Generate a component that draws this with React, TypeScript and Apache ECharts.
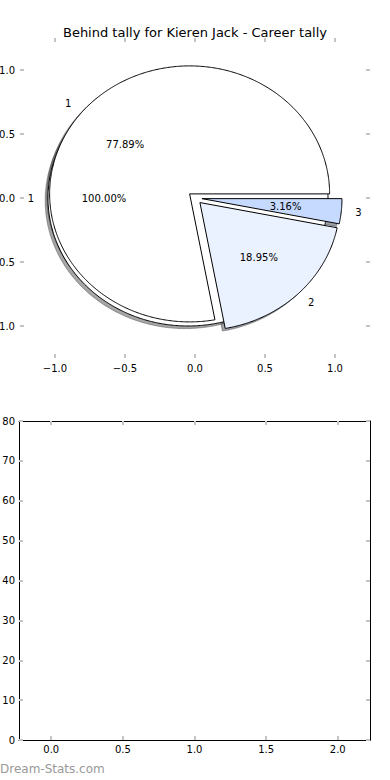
import React, { useEffect, useRef } from 'react';
import * as echarts from 'echarts';

const TITLE = 'Behind tally for Kieren Jack - Career tally';
const WATERMARK = 'Dream-Stats.com';
// background full pie (one category)
const outerLabels = ['1'];
const outerValues = [95];
const outerColors = ['#ffffff'];
// career tally pie
const innerLabels = ['1', '2', '3'];
const innerValues = [74, 18, 3];
const innerColors = ['#ffffff', '#eaf1ff', '#c6d9ff'];
const EXPLODE = 0.05;
const pieTicks = [-1, -0.5, 0, 0.5, 1];
const barXTicks = [0, 0.5, 1, 1.5, 2];
const barYMin = 0;
const barYMax = 80;
const barYStep = 10;

const FONT = 'DejaVu Sans';

type Wedge = { t1: number; t2: number; cx: number; cy: number; color: string; label: string; pct: number; mid: number; full: boolean };

function buildWedges(values: number[], colors: string[], labels: string[]): Wedge[] {
  const total = values.reduce((a, b) => a + b, 0);
  let t1 = 0;
  return values.map((v, i) => {
    const t2 = t1 + (v / total) * 360;
    const mid = ((t1 + t2) / 2) * Math.PI / 180;
    const w: Wedge = {
      t1, t2,
      cx: EXPLODE * Math.cos(mid),
      cy: EXPLODE * Math.sin(mid),
      color: colors[i], label: labels[i], pct: (v / total) * 100, mid,
      full: Math.abs(t2 - t1 - 360) < 1e-9,
    };
    t1 = t2;
    return w;
  });
}

const outerWedges = buildWedges(outerValues, outerColors, outerLabels);
const innerWedges = buildWedges(innerValues, innerColors, innerLabels);
const allWedges = [...outerWedges, ...innerWedges];

function shadeColor(hex: string) {
  const r = parseInt(hex.slice(1, 3), 16) * 0.3;
  const g = parseInt(hex.slice(3, 5), 16) * 0.3;
  const b = parseInt(hex.slice(5, 7), 16) * 0.3;
  return `rgba(${Math.round(r)},${Math.round(g)},${Math.round(b)},0.5)`;
}

function wedgePoints(api: any, w: Wedge, dx: number, dy: number) {
  const pts: number[][] = [];
  if (!w.full) pts.push(api.coord([w.cx + dx, w.cy + dy]));
  const n = Math.max(2, Math.ceil((w.t2 - w.t1) / 0.5));
  for (let k = 0; k <= n; k++) {
    const a = ((w.t1 + ((w.t2 - w.t1) * k) / n) * Math.PI) / 180;
    pts.push(api.coord([w.cx + dx + Math.cos(a), w.cy + dy + Math.sin(a)]));
  }
  return pts;
}

type LabelItem = { x: number; y: number; text: string; align: string };
const labelItems: LabelItem[] = [];
allWedges.forEach((w) => {
  const lx = w.cx + 1.1 * Math.cos(w.mid);
  const ly = w.cy + 1.1 * Math.sin(w.mid);
  labelItems.push({ x: lx, y: ly, text: w.label, align: lx < 0 ? 'right' : 'left' });
  labelItems.push({
    x: w.cx + 0.6 * Math.cos(w.mid),
    y: w.cy + 0.6 * Math.sin(w.mid),
    text: w.pct.toFixed(2) + '%',
    align: 'center',
  });
});

const fmt1 = (v: number) => (v < 0 ? '\u2212' : '') + Math.abs(v).toFixed(1);

const tickStyle = { inside: true, length: 4, lineStyle: { color: '#c4c4c4', width: 2 } };
const labelBase = { color: '#000', fontFamily: FONT, fontSize: 10 };

export default function App() {
  const ref = useRef<HTMLDivElement>(null);
  useEffect(() => {
    const chart = echarts.init(ref.current!, null, { renderer: 'svg' });
    const option: any = {
      animation: false,
      backgroundColor: '#fff',
      title: {
        text: TITLE,
        left: 'center',
        top: 21,
        textStyle: { fontFamily: FONT, fontSize: 13, fontWeight: 'normal', color: '#000' },
      },
      grid: [
        { left: 20, top: 38, width: 350, height: 320, outerBoundsMode: 'none', containLabel: false },
        { left: 19, top: 421, width: 351, height: 319, outerBoundsMode: 'none', containLabel: false },
      ],
      xAxis: [
        {
          gridIndex: 0, type: 'value', position: 'bottom', min: -1.25, max: 1.25,
          axisLine: { show: false, onZero: false }, splitLine: { show: false },
          axisTick: { ...tickStyle, customValues: pieTicks },
          axisLabel: { ...labelBase, margin: 5, customValues: pieTicks, formatter: fmt1 },
        },
        {
          gridIndex: 0, type: 'value', position: 'top', min: -1.25, max: 1.25,
          axisLine: { show: false, onZero: false }, splitLine: { show: false },
          axisTick: { ...tickStyle, customValues: pieTicks },
          axisLabel: { show: false },
        },
        {
          gridIndex: 1, type: 'value', position: 'bottom', min: -0.225, max: 2.225,
          axisLine: { show: true, onZero: false, lineStyle: { color: '#000', width: 1 } }, splitLine: { show: false },
          axisTick: { ...tickStyle, customValues: barXTicks },
          axisLabel: { ...labelBase, margin: 4, customValues: barXTicks, formatter: fmt1 },
        },
        {
          gridIndex: 1, type: 'value', position: 'top', min: -0.225, max: 2.225,
          axisLine: { show: true, onZero: false, lineStyle: { color: '#000', width: 1 } }, splitLine: { show: false },
          axisTick: { ...tickStyle, customValues: barXTicks },
          axisLabel: { show: false },
        },
      ],
      yAxis: [
        {
          gridIndex: 0, type: 'value', position: 'left', min: -1.25, max: 1.25,
          axisLine: { show: false, onZero: false }, splitLine: { show: false },
          axisTick: { ...tickStyle, customValues: pieTicks },
          axisLabel: { ...labelBase, margin: 5, customValues: pieTicks, formatter: fmt1 },
        },
        {
          gridIndex: 0, type: 'value', position: 'right', min: -1.25, max: 1.25,
          axisLine: { show: false, onZero: false }, splitLine: { show: false },
          axisTick: { ...tickStyle, customValues: pieTicks },
          axisLabel: { show: false },
        },
        {
          gridIndex: 1, type: 'value', position: 'left', min: barYMin, max: barYMax, interval: barYStep,
          axisLine: { show: true, onZero: false, lineStyle: { color: '#000', width: 1 } }, splitLine: { show: false },
          axisTick: tickStyle,
          axisLabel: { ...labelBase, margin: 4 },
        },
        {
          gridIndex: 1, type: 'value', position: 'right', min: barYMin, max: barYMax, interval: barYStep,
          axisLine: { show: true, onZero: false, lineStyle: { color: '#000', width: 1 } }, splitLine: { show: false },
          axisTick: tickStyle,
          axisLabel: { show: false },
        },
      ],
      series: [
        {
          type: 'custom', xAxisIndex: 0, yAxisIndex: 0, z: 1, silent: true, clip: false,
          data: allWedges.map((w) => [w.cx, w.cy]),
          renderItem: (params: any, api: any) => {
            const w = allWedges[params.dataIndex];
            const c = shadeColor(w.color);
            return {
              type: 'polygon',
              shape: { points: wedgePoints(api, w, -0.02, -0.02) },
              style: { fill: c, stroke: c, lineWidth: 1 },
            };
          },
        },
        {
          type: 'custom', xAxisIndex: 0, yAxisIndex: 0, z: 2, silent: true, clip: false,
          data: outerWedges.map((w) => [w.cx, w.cy]),
          renderItem: (params: any, api: any) => {
            const w = outerWedges[params.dataIndex];
            return {
              type: 'polygon',
              shape: { points: wedgePoints(api, w, 0, 0) },
              style: { fill: w.color, stroke: '#000', lineWidth: 1, lineJoin: 'miter' },
            };
          },
        },
        {
          type: 'custom', xAxisIndex: 0, yAxisIndex: 0, z: 3, silent: true, clip: false,
          data: innerWedges.map((w) => [w.cx, w.cy]),
          renderItem: (params: any, api: any) => {
            const w = innerWedges[params.dataIndex];
            return {
              type: 'polygon',
              shape: { points: wedgePoints(api, w, 0, 0) },
              style: { fill: w.color, stroke: '#000', lineWidth: 1, lineJoin: 'miter' },
            };
          },
        },
        {
          type: 'custom', xAxisIndex: 0, yAxisIndex: 0, z: 4, silent: true, clip: false,
          data: labelItems.map((l) => [l.x, l.y]),
          renderItem: (params: any, api: any) => {
            const l = labelItems[params.dataIndex];
            const p = api.coord([l.x, l.y]);
            return {
              type: 'text',
              x: p[0], y: p[1],
              style: {
                text: l.text, fill: '#000', fontFamily: FONT, fontSize: 10,
                align: l.align, verticalAlign: 'middle',
              },
            };
          },
        },
      ],
      graphic: [
        {
          type: 'text', left: 0, top: 763, silent: true,
          style: { text: WATERMARK, fill: '#999', fontFamily: FONT, fontSize: 12 },
        },
      ],
    };
    chart.setOption(option);
    return () => chart.dispose();
  }, []);
  return (
    <div
      ref={ref}
      style={{ position: 'absolute', left: 0, top: 0, width: 390, height: 780, background: '#fff' }}
    />
  );
}
